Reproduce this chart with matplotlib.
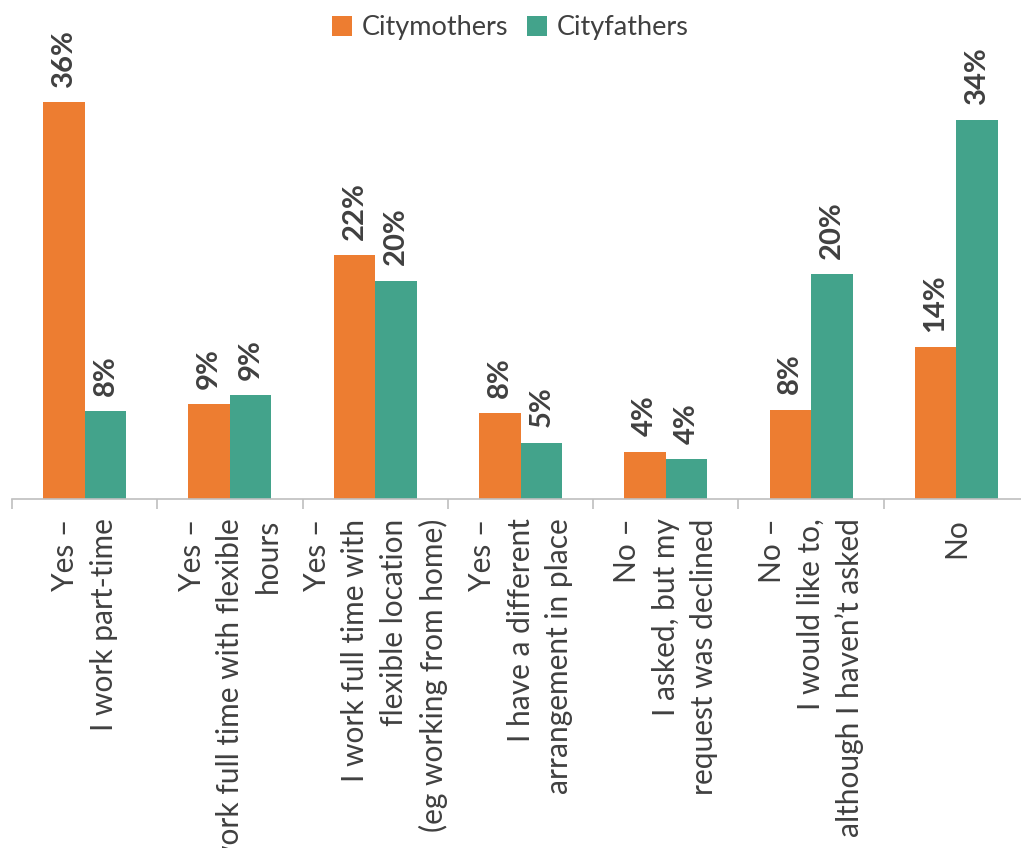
import matplotlib.pyplot as plt
import numpy as np

plt.rcParams['font.family'] = ['Lato', 'DejaVu Sans']

categories = [
    "Yes –\nI work part-time",
    "Yes –\nI work full time with flexible\nhours",
    "Yes –\nI work full time with\nflexible location\n(eg working from home)",
    "Yes –\nI have a different\narrangement in place",
    "No –\nI asked, but my\nrequest was declined",
    "No –\nI would like to,\nalthough I haven’t asked",
    "No",
]
mothers = [36.0, 8.6, 22.1, 7.8, 4.3, 8.1, 13.8]
fathers = [8.0, 9.4, 19.8, 5.1, 3.6, 20.4, 34.4]

orange = "#ED7D31"
teal = "#43A38B"
text_col = "#404040"

fig = plt.figure(figsize=(10.21, 8.48), dpi=100)
ax = fig.add_axes([12 / 1021, 349 / 848, 1017 / 1021, 441 / 848])

x = np.arange(len(categories))
w = 0.286
b1 = ax.bar(x - w / 2, mothers, w, color=orange, label="Citymothers")
b2 = ax.bar(x + w / 2, fathers, w, color=teal, label="Cityfathers")

# value labels above each bar
for bars, vals in ((b1, mothers), (b2, fathers)):
    for rect, v in zip(bars, vals):
        ax.annotate(f"{round(v):d}%", (rect.get_x() + rect.get_width() / 2, v),
                    xytext=(0, 11), textcoords="offset points",
                    rotation=90, ha="center", va="bottom",
                    fontsize=21, fontweight="bold", color=text_col,
                    annotation_clip=False)

ax.set_xlim(-0.5, len(categories) - 0.5)
ax.set_ylim(0, 40)
ax.set_yticks([])
for s in ("top", "right", "left"):
    ax.spines[s].set_visible(False)
ax.spines["bottom"].set_color("#BFBFBF")
ax.spines["bottom"].set_linewidth(1.2)

ax.set_xticks(x)
ax.set_xticklabels(categories, rotation=90, ha="center", va="top",
                   multialignment="right", linespacing=1.45,
                   fontsize=21.5, color=text_col)
ax.tick_params(axis="x", which="major", length=0, pad=14)
ax.set_xticks(np.arange(-0.5, len(categories)), minor=True)
ax.tick_params(axis="x", which="minor", length=7, color="#BFBFBF", width=1.2)

fig.legend(loc="center", bbox_to_anchor=(510 / 1021, 1 - 28 / 848), ncol=2,
           frameon=False, fontsize=19.5, handlelength=0.75, handleheight=0.75,
           handletextpad=0.35, columnspacing=0.7, labelcolor=text_col)

fig.savefig("out.png", dpi=100)
